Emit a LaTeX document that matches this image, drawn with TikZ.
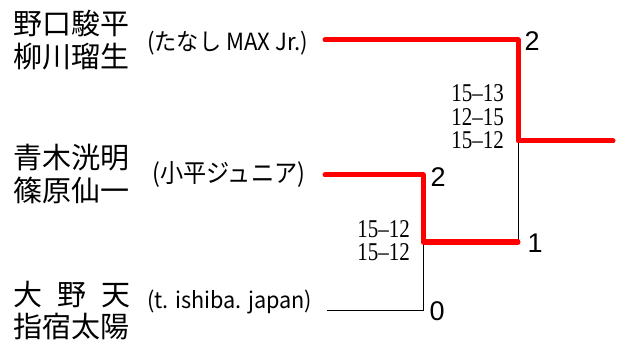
\documentclass[tikz,border=0pt]{standalone}
\usepackage{fontspec}
\usepackage{graphicx}
\setmainfont{Liberation Serif}
\newfontfamily\cjk{Noto Sans CJK JP}
\newfontfamily\numf{Liberation Sans}
\newcommand{\scoretext}[1]{\scalebox{1}[1.22]{\fontsize{21}{17.6}\selectfont\begin{tabular}{@{}r@{}}#1\end{tabular}}}
\begin{document}
\begin{tikzpicture}[x=1pt,y=-1pt,
  win/.style={red, line width=5pt, line cap=round, line join=round},
  lose/.style={black, line width=0.9pt},
  player/.style={font=\cjk\fontsize{29}{33}\selectfont, align=left, inner sep=0pt, anchor=west},
  club/.style={inner sep=0pt, anchor=west},
  score/.style={inner sep=0pt, anchor=east},
  num/.style={font=\numf\fontsize{27}{27}\selectfont, inner sep=0pt}]
\useasboundingbox (0,0) rectangle (617,344);
% players
\node[player] (p1) at (13,40.5) {野口駿平\\柳川瑠生};
\node[player] (p2) at (13,174) {青木洸明\\篠原仙一};
\node[player, font=\cjk\fontsize{29}{32}\selectfont] (p3) at (13,311) {\hbox to 117pt{大\hfill 野\hfill 天}\\指宿太陽};
% clubs
\node[club] (c1) at (147,43) {\resizebox*{161pt}{24pt}{\cjk\fontsize{20}{20}\selectfont (たなし MAX Jr.)}};
\node[club] (c2) at (152,174) {\resizebox*{153pt}{26pt}{\cjk\fontsize{20}{20}\selectfont (小平ジュニア)}};
\node[club] (c3) at (147,302) {\resizebox*{165pt}{24pt}{\cjk\fontsize{20}{20}\selectfont (t. ishiba. japan)}};
% bracket points
\coordinate (a1) at (325,40);
\coordinate (a2) at (518,40);
\coordinate (a3) at (518,141);
\coordinate (a4) at (613,141);
\coordinate (b1) at (325,175);
\coordinate (b2) at (423,175);
\coordinate (b3) at (423,242);
\coordinate (b4) at (518,242);
\coordinate (d1) at (327,310);
\coordinate (d2) at (423,310);
% losing lines
\draw[lose] (a3) -- (b4);
\draw[lose] (d1) -- (d2) -- (b3);
% winning lines
\draw[win] (a1) -- (a2) -- (a3) -- (a4);
\draw[win] (b1) -- (b2) -- (b3) -- (b4);
% scores
\node[score] (s1) at (504,120) {\scoretext{15–13\\12–15\\15–12}};
\node[score] (s2) at (410,243.5) {\scoretext{15–12\\15–12}};
% game counts
\node[num] (n1) at (532,41) {2};
\node[num] (n2) at (438,177) {2};
\node[num] (n3) at (535,243) {1};
\node[num] (n4) at (437,311) {0};
\end{tikzpicture}
\end{document}
